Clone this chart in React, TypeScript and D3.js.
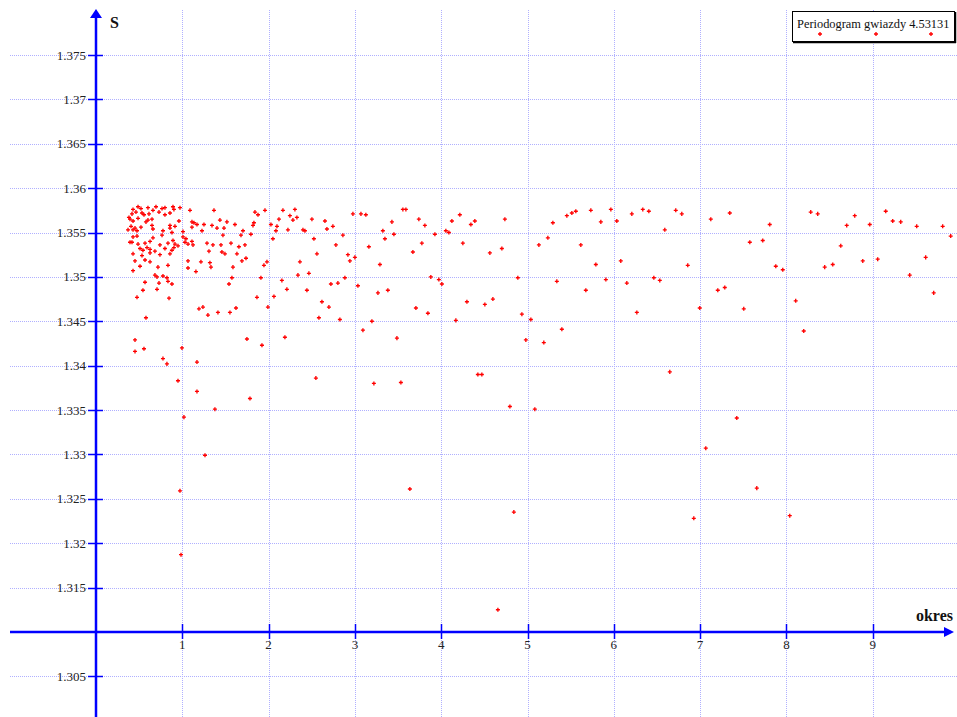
import * as d3 from "d3";
import React from "react";

// okres values on the x axis, S values on the y axis
const xTicks = [1, 2, 3, 4, 5, 6, 7, 8, 9];
const yTicks = [1.305, 1.315, 1.32, 1.325, 1.33, 1.335, 1.34, 1.345, 1.35, 1.355, 1.36, 1.365, 1.37, 1.375];
const legendLabel = "Periodogram gwiazdy 4.53131";

// dense group at short periods
const clusterPoints: [number, number][] = [
    [0.429, 1.3576], [0.487, 1.3579], [0.521, 1.3577], [0.602, 1.3578], [0.660, 1.3575], [0.695, 1.3579],
    [0.765, 1.3577], [0.799, 1.3578], [0.892, 1.3579], [0.903, 1.3576], [0.973, 1.3578], [1.089, 1.3575],
    [0.417, 1.3571], [0.463, 1.3573], [0.533, 1.3572], [0.556, 1.3570], [0.614, 1.3571], [0.730, 1.3573],
    [0.799, 1.3570], [0.857, 1.3572],
    [0.394, 1.3565], [0.429, 1.3563], [0.487, 1.3566], [0.579, 1.3562], [0.602, 1.3564], [0.649, 1.3565],
    [0.961, 1.3563], [1.112, 1.3562], [1.135, 1.3561], [0.857, 1.3558], [0.857, 1.3555],
    [0.406, 1.3557], [0.429, 1.3553], [0.452, 1.3555], [0.475, 1.3552], [0.521, 1.3556], [0.649, 1.3558],
    [0.660, 1.3554], [0.776, 1.3552], [0.880, 1.3550], [0.915, 1.3557], [1.008, 1.3551], [1.112, 1.3556],
    [1.170, 1.3559], [1.228, 1.3552],
    [0.429, 1.3545], [0.475, 1.3546], [0.660, 1.3544], [0.765, 1.3547], [1.008, 1.3545], [1.042, 1.3543],
    [0.417, 1.3539], [0.487, 1.3537], [0.568, 1.3538], [0.626, 1.3540], [0.741, 1.3536], [0.834, 1.3538],
    [0.892, 1.3541], [0.915, 1.3537], [0.950, 1.3535], [1.031, 1.3539], [1.066, 1.3537], [1.112, 1.3540],
    [1.124, 1.3536],
    [0.510, 1.3532], [0.544, 1.3530], [0.591, 1.3533], [0.626, 1.3531], [0.683, 1.3529], [0.799, 1.3532],
    [0.880, 1.3530], [0.903, 1.3533],
    [0.429, 1.3526], [0.533, 1.3524], [0.626, 1.3527], [0.741, 1.3525], [0.857, 1.3526],
    [0.452, 1.3518], [0.568, 1.3519], [0.626, 1.3517], [1.066, 1.3518],
    [0.510, 1.3512], [0.718, 1.3511], [0.834, 1.3513], [1.066, 1.3510],
    [0.429, 1.3507], [1.158, 1.3506],
    [0.683, 1.3502], [0.707, 1.3500], [0.776, 1.3501], [0.822, 1.3499],
    [0.568, 1.3494], [0.730, 1.3493], [0.834, 1.3495], [0.880, 1.3492],
    [0.544, 1.3485], [0.707, 1.3486],
    [0.475, 1.3477], [0.846, 1.3476],
    [0.382, 1.3567], [0.371, 1.3553], [0.394, 1.3539],
];

// main band, okres 1.2 - 4.5
const midPoints: [number, number][] = [
    [1.367, 1.3575], [1.842, 1.3573], [1.877, 1.3570], [1.958, 1.3575], [2.166, 1.3575], [2.305, 1.3576],
    [1.251, 1.3559], [1.344, 1.3558], [1.402, 1.3555], [1.436, 1.3564], [1.483, 1.3555], [1.517, 1.3562],
    [1.610, 1.3559], [1.819, 1.3558], [1.830, 1.3561], [2.027, 1.3559], [2.097, 1.3557], [2.120, 1.3565],
    [2.247, 1.3569], [2.282, 1.3564], [2.328, 1.3567], [2.502, 1.3565], [2.653, 1.3563], [2.676, 1.3554],
    [2.745, 1.3557], [2.977, 1.3571], [3.070, 1.3571], [3.127, 1.3570], [3.429, 1.3562], [3.556, 1.3576],
    [3.591, 1.3576], [3.741, 1.3565], [3.811, 1.3558],
    [1.471, 1.3547], [1.680, 1.3547], [1.703, 1.3552], [1.795, 1.3548], [2.085, 1.3552], [2.224, 1.3553],
    [2.398, 1.3553], [2.421, 1.3552], [2.861, 1.3547], [3.324, 1.3552], [3.452, 1.3548], [3.927, 1.3548],
    [4.054, 1.3552], [4.089, 1.3550],
    [1.286, 1.3538], [1.355, 1.3536], [1.448, 1.3536], [1.564, 1.3538], [1.726, 1.3536], [1.656, 1.3534],
    [2.050, 1.3543], [2.525, 1.3543], [2.780, 1.3536], [3.348, 1.3543], [3.162, 1.3534], [3.776, 1.3538],
    [1.309, 1.3529], [1.459, 1.3528], [1.494, 1.3526], [1.633, 1.3526], [2.560, 1.3526], [2.919, 1.3525],
    [3.672, 1.3528],
    [1.216, 1.3517], [1.320, 1.3516], [1.332, 1.3511], [1.587, 1.3511], [1.691, 1.3518], [1.738, 1.3521],
    [1.946, 1.3513], [1.981, 1.3517], [2.363, 1.3517], [2.942, 1.3518], [3.000, 1.3522], [3.290, 1.3514],
    [1.575, 1.3499], [1.541, 1.3492], [1.911, 1.3499], [2.154, 1.3496], [2.340, 1.3502], [2.467, 1.3504],
    [2.884, 1.3499], [3.035, 1.3490], [3.267, 1.3482], [3.382, 1.3485], [3.880, 1.3500], [3.973, 1.3497],
    [4.008, 1.3492], [2.722, 1.3492], [2.803, 1.3493],
    [2.062, 1.3478], [1.865, 1.3477], [2.212, 1.3486], [2.444, 1.3485],
    [1.193, 1.3464], [1.239, 1.3466], [1.297, 1.3457], [1.413, 1.3460], [1.552, 1.3460], [1.622, 1.3465],
    [1.992, 1.3466], [2.618, 1.3472], [2.699, 1.3466], [2.583, 1.3454], [2.826, 1.3452], [3.197, 1.3450],
    [3.707, 1.3465], [3.846, 1.3459],
    [4.124, 1.3563], [4.216, 1.3570], [4.344, 1.3559], [4.390, 1.3563], [4.251, 1.3538],
    [4.298, 1.3472], [4.170, 1.3451],
];

// main band, okres 4.5 - 10
const rightPoints: [number, number][] = [
    [4.506, 1.3469], [4.599, 1.3475], [4.935, 1.3458], [5.039, 1.3452],
    [5.340, 1.3495], [5.676, 1.3485], [6.151, 1.3493], [6.267, 1.3460],
    [4.738, 1.3565], [4.564, 1.3527], [4.703, 1.3532], [4.888, 1.3499],
    [5.294, 1.3561], [5.456, 1.3569], [5.514, 1.3572], [5.560, 1.3574], [5.734, 1.3575], [5.850, 1.3562],
    [5.966, 1.3576], [6.035, 1.3563], [6.209, 1.3571], [6.336, 1.3576], [6.406, 1.3574], [6.591, 1.3553],
    [6.718, 1.3575], [6.788, 1.3571],
    [5.132, 1.3536], [5.236, 1.3544], [5.618, 1.3536], [5.792, 1.3514], [6.081, 1.3518], [6.857, 1.3513],
    [5.908, 1.3497], [6.464, 1.3499], [6.533, 1.3496],
    [7.124, 1.3565], [7.344, 1.3572], [7.807, 1.3559], [8.282, 1.3573], [8.363, 1.3571], [8.699, 1.3558],
    [8.792, 1.3569], [8.966, 1.3559], [9.151, 1.3574], [9.232, 1.3563], [9.325, 1.3562], [9.510, 1.3557],
    [9.811, 1.3557], [9.904, 1.3546],
    [7.576, 1.3539], [7.726, 1.3541], [7.877, 1.3512], [7.958, 1.3508], [8.444, 1.3511], [8.537, 1.3514],
    [8.630, 1.3535], [8.885, 1.3518], [9.058, 1.3520], [9.614, 1.3522], [9.429, 1.3502], [9.707, 1.3482],
    [7.205, 1.3485], [7.286, 1.3488], [6.996, 1.3465], [7.506, 1.3464], [8.108, 1.3473],
];

// scattered low values
const lowPoints: [number, number][] = [
    [0.579, 1.3454], [0.452, 1.3429], [0.452, 1.3416], [0.556, 1.3419], [0.776, 1.3408], [0.822, 1.3402],
    [0.996, 1.3420], [1.170, 1.3404], [0.950, 1.3383], [1.170, 1.3371], [1.019, 1.3342], [1.378, 1.3351],
    [1.263, 1.3299], [0.973, 1.3259], [0.985, 1.3187], [1.784, 1.3363], [1.923, 1.3423], [1.749, 1.3430],
    [2.189, 1.3432], [2.548, 1.3386], [3.220, 1.3380], [3.533, 1.3381], [3.637, 1.3261], [3.093, 1.3440],
    [3.487, 1.3431], [4.425, 1.3390], [4.471, 1.3390], [4.981, 1.3429], [5.189, 1.3426], [5.398, 1.3441],
    [4.796, 1.3354], [5.085, 1.3351], [4.842, 1.3235], [4.657, 1.3125], [6.649, 1.3393], [8.201, 1.3439],
    [7.425, 1.3341], [7.066, 1.3307], [7.657, 1.3262], [6.927, 1.3228], [8.039, 1.3231],
];

const width = 957;
const height = 717;
const font = "'Liberation Serif', 'Times New Roman', serif";
const blue = "#0000ff";

export default function App() {
    const x = d3.scaleLinear().domain([0, 9]).range([96, 872.7]);
    const y = d3.scaleLinear().domain([1.305, 1.375]).range([676.3, 55]);
    const fmt = d3.format(".3~f");
    const cross = d3.symbol().type(d3.symbolCross).size(9)() as string;

    const allPoints = [...clusterPoints, ...midPoints, ...rightPoints, ...lowPoints];
    const x0 = x(0);
    const y0 = y(1.31);
    const px = (v: number) => Math.round(v) + 0.5;

    return (
        <svg width={width} height={height} style={{position: "absolute", left: 0, top: 0, background: "#fff"}}>
            {/* dotted grid */}
            <g stroke="#b0b0ff" strokeWidth={1} strokeDasharray="1 1" fill="none">
                {yTicks.map(t => (
                    <line key={"gy" + t} x1={10} x2={width} y1={px(y(t))} y2={px(y(t))}/>
                ))}
                {xTicks.map(t => (
                    <line key={"gx" + t} x1={px(x(t))} x2={px(x(t))} y1={10} y2={height}/>
                ))}
            </g>

            {/* axes */}
            <line x1={10} x2={946} y1={y0} y2={y0} stroke={blue} strokeWidth={2.5}/>
            <polygon points={`954,${y0} 944,${y0 - 5} 944,${y0 + 5}`} fill={blue}/>
            <line x1={x0} x2={x0} y1={16} y2={height} stroke={blue} strokeWidth={2.5}/>
            <polygon points={`${x0},9 ${x0 - 6},18 ${x0 + 6},18`} fill={blue}/>

            {/* y ticks and labels */}
            {yTicks.map(t => (
                <g key={"ty" + t}>
                    <line x1={88} x2={103} y1={px(y(t))} y2={px(y(t))} stroke={blue} strokeWidth={1.5}/>
                    <text x={86} y={y(t)} dy="0.35em" textAnchor="end" fontFamily={font} fontSize={13} fill="#222">
                        {fmt(t)}
                    </text>
                </g>
            ))}

            {/* x ticks and labels */}
            {xTicks.map(t => (
                <g key={"tx" + t}>
                    <line x1={px(x(t))} x2={px(x(t))} y1={624} y2={639} stroke={blue} strokeWidth={1.5}/>
                    <text x={x(t)} y={649} textAnchor="middle" fontFamily={font} fontSize={13} fill="#222">
                        {t}
                    </text>
                </g>
            ))}

            <text x={110} y={28} fontFamily={font} fontSize={16} fontWeight="bold" fill="#111">S</text>
            <text x={953} y={621} textAnchor="end" fontFamily={font} fontSize={16} fontWeight="bold" fill="#111">okres</text>

            {/* data */}
            <g fill="#ff0000">
                {allPoints.map((d, i) => (
                    <path key={i} d={cross} transform={`translate(${x(d[0])},${y(d[1])})`}/>
                ))}
            </g>

            {/* legend */}
            <g>
                <rect x={792.5} y={11.5} width={162} height={30} fill="#fff" stroke="#000" strokeWidth={1}/>
                <line x1={793} x2={956} y1={42.5} y2={42.5} stroke="#000" strokeWidth={1.5}/>
                <line x1={955.5} x2={955.5} y1={12} y2={43} stroke="#000" strokeWidth={1.5}/>
                <text x={797} y={28} fontFamily={font} fontSize={12.4} fill="#111">{legendLabel}</text>
                {[820, 876, 931].map(cx => (
                    <path key={cx} d={cross} transform={`translate(${cx},34)`} fill="#ff0000"/>
                ))}
            </g>
        </svg>
    );
}
